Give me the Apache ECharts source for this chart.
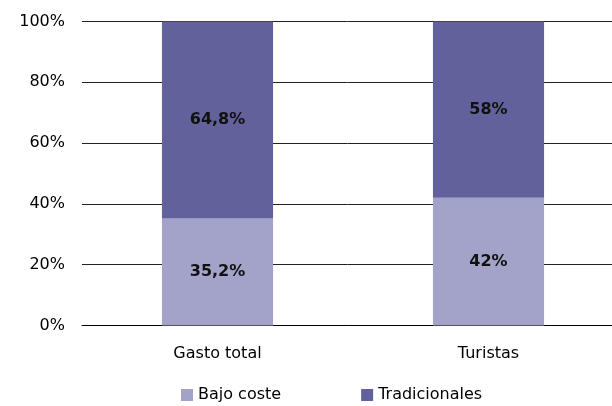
<!DOCTYPE html>
<html>
<head>
<meta charset="utf-8">
<script src="https://cdn.jsdelivr.net/npm/echarts@6/dist/echarts.min.js"></script>
<style>
  html, body { margin: 0; padding: 0; background: #fff; }
  #chart { width: 612px; height: 406px; }
</style>
</head>
<body>
<div id="chart"></div>
<script>
  // categorías y valores (%)
  const categories = ['Gasto total', 'Turistas']
  const bajoCoste = [35.2, 42]
  const tradicionales = [64.8, 58]
  const labelsBajo = ['35,2%', '42%']
  const labelsTrad = ['64,8%', '58%']

  const chart = echarts.init(document.getElementById('chart'))

  const font = '"DejaVu Sans", Verdana, sans-serif'

  chart.setOption({
    animation: false,
    textStyle: { fontFamily: font },
    // el área de dibujo sigue un poco más allá del borde derecho
    grid: { left: 82, width: 542, top: 21.5, height: 304, outerBoundsMode: 'none' },
    legend: {
      top: 387,
      left: 181,
      padding: 0,
      itemGap: 80,
      itemWidth: 12,
      itemHeight: 12,
      icon: 'rect',
      textStyle: { fontSize: 16, color: '#000', fontFamily: font },
      data: ['Bajo coste', 'Tradicionales']
    },
    xAxis: {
      type: 'category',
      data: categories,
      axisTick: { show: false },
      axisLine: { lineStyle: { color: '#000', width: 1 } },
      axisLabel: { fontSize: 16, color: '#000', margin: 20, fontFamily: font }
    },
    yAxis: {
      type: 'value',
      min: 0,
      max: 100,
      interval: 20,
      axisLine: { show: false },
      axisTick: { show: false },
      splitLine: { lineStyle: { color: '#222', width: 1 } },
      axisLabel: { fontSize: 16, color: '#000', margin: 17, fontFamily: font, formatter: '{value}%' }
    },
    series: [
      {
        name: 'Bajo coste',
        type: 'bar',
        stack: 'total',
        barWidth: '41%',
        itemStyle: { color: '#a3a2c8' },
        label: {
          show: true,
          position: 'inside',
          fontSize: 16,
          fontWeight: 'bold',
          fontFamily: font,
          color: '#111',
          formatter: p => labelsBajo[p.dataIndex]
        },
        data: bajoCoste
      },
      {
        name: 'Tradicionales',
        type: 'bar',
        stack: 'total',
        barWidth: '41%',
        itemStyle: { color: '#62619b' },
        label: {
          show: true,
          position: 'inside',
          fontSize: 16,
          fontWeight: 'bold',
          fontFamily: font,
          color: '#111',
          formatter: p => labelsTrad[p.dataIndex]
        },
        data: tradicionales
      }
    ]
  })
</script>
</body>
</html>
